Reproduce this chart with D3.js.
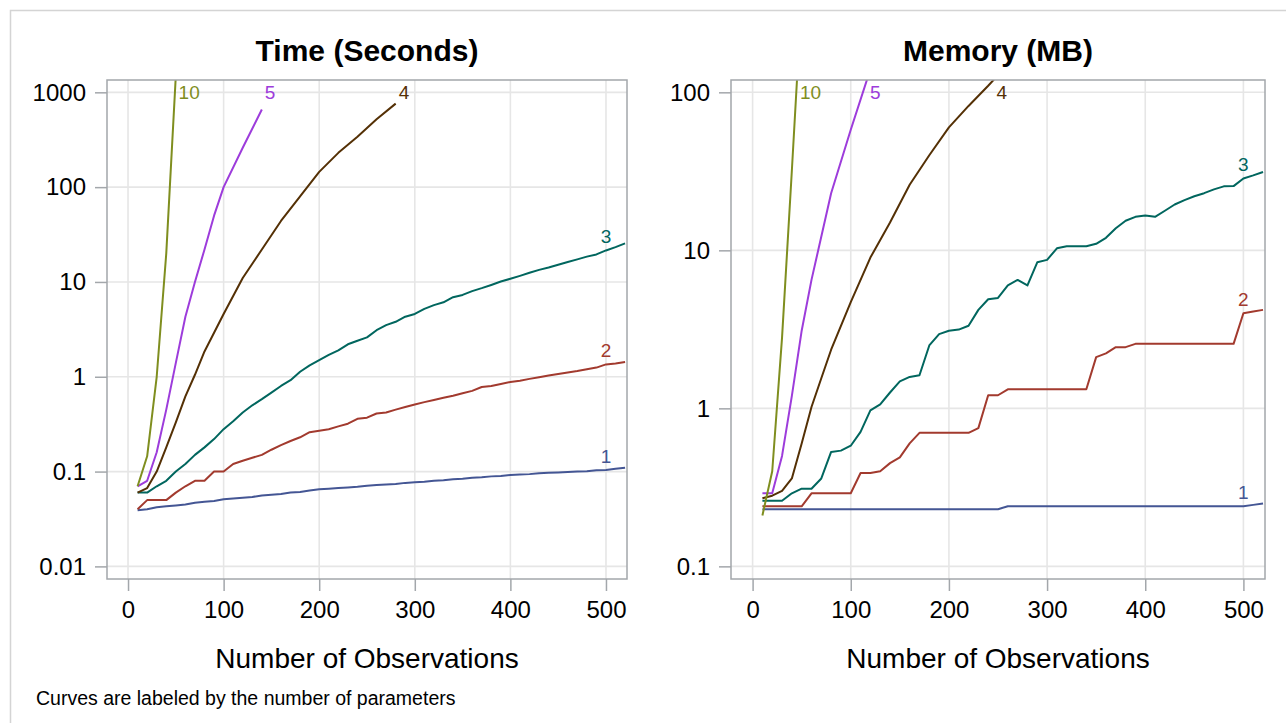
<!DOCTYPE html>
<html>
<head>
<meta charset="utf-8">
<script src="https://cdn.jsdelivr.net/npm/d3@7"></script>
<style>
  html, body { margin: 0; padding: 0; background: #fff; }
  svg { display: block; }
  text { font-family: "Liberation Sans", Arial, sans-serif; }
</style>
</head>
<body>
<svg id="chart" width="1286" height="723"></svg>
<script>
// ---------------- DATA ----------------
const obs = [10,20,30,40,50,60,70,80,90,100,110,120,130,140,150,160,170,180,190,200,
             210,220,230,240,250,260,270,280,290,300,310,320,330,340,350,360,370,380,390,400,
             410,420,430,440,450,460,470,480,490,500,510,520];

// Time (seconds)
const time1 = [0.039,0.040,0.042,0.043,0.044,0.045,0.047,0.048,0.049,0.051,
               0.052,0.053,0.054,0.056,0.057,0.058,0.060,0.061,0.063,0.065,
               0.066,0.067,0.068,0.069,0.071,0.072,0.073,0.074,0.076,0.077,
               0.078,0.080,0.081,0.083,0.084,0.086,0.087,0.089,0.090,0.092,
               0.093,0.094,0.096,0.097,0.098,0.099,0.100,0.101,0.103,0.104,
               0.107,0.110];
const time2 = [0.04,0.05,0.05,0.05,0.06,0.07,0.08,0.08,0.10,0.10,
               0.12,0.13,0.14,0.15,0.17,0.19,0.21,0.23,0.26,0.27,
               0.28,0.30,0.32,0.36,0.37,0.41,0.42,0.45,0.48,0.51,
               0.54,0.57,0.60,0.63,0.67,0.71,0.78,0.80,0.84,0.88,
               0.91,0.95,0.99,1.03,1.07,1.11,1.15,1.20,1.25,1.35,
               1.38,1.43];
const time3 = [0.06,0.06,0.07,0.08,0.10,0.12,0.15,0.18,0.22,0.28,
               0.34,0.42,0.50,0.58,0.68,0.80,0.92,1.13,1.32,1.50,
               1.70,1.90,2.20,2.40,2.60,3.10,3.50,3.80,4.30,4.60,
               5.20,5.70,6.10,6.90,7.30,8.00,8.60,9.30,10.1,10.8,
               11.6,12.5,13.4,14.2,15.2,16.2,17.3,18.5,19.5,21.5,
               23.3,25.5];
const time4N = [10,20,30,40,50,60,70,80,100,120,140,160,180,200,220,240,260,280];
const time4  = [0.06,0.067,0.10,0.18,0.33,0.62,1.05,1.85,4.6,11,22,44,80,145,230,340,520,760];
const time5N = [10,20,30,40,50,60,70,80,90,100,120,140];
const time5  = [0.07,0.08,0.16,0.45,1.4,4.3,10,22,50,100,260,660];
const time10N = [10,20,30,40,50];
const time10  = [0.07,0.145,1.0,20,1500];

// Memory (MB)
const mem1 = [0.23,0.23,0.23,0.23,0.23,0.23,0.23,0.23,0.23,0.23,
              0.23,0.23,0.23,0.23,0.23,0.23,0.23,0.23,0.23,0.23,
              0.23,0.23,0.23,0.23,0.23,0.24,0.24,0.24,0.24,0.24,
              0.24,0.24,0.24,0.24,0.24,0.24,0.24,0.24,0.24,0.24,
              0.24,0.24,0.24,0.24,0.24,0.24,0.24,0.24,0.24,0.24,
              0.245,0.25];
const mem2 = [0.24,0.24,0.24,0.24,0.24,0.29,0.29,0.29,0.29,0.29,
              0.39,0.39,0.40,0.45,0.49,0.60,0.70,0.70,0.70,0.70,
              0.70,0.70,0.75,1.21,1.21,1.32,1.32,1.32,1.32,1.32,
              1.32,1.32,1.32,1.32,2.11,2.23,2.44,2.44,2.56,2.56,
              2.56,2.56,2.56,2.56,2.56,2.56,2.56,2.56,2.56,4.00,
              4.10,4.20];
const mem3 = [0.26,0.26,0.26,0.29,0.31,0.31,0.36,0.53,0.54,0.58,
              0.71,0.97,1.06,1.26,1.48,1.58,1.62,2.50,2.95,3.10,
              3.15,3.33,4.20,4.90,5.00,6.00,6.50,6.00,8.40,8.70,
              10.3,10.6,10.6,10.6,11.0,12.0,13.8,15.4,16.3,16.6,
              16.3,17.8,19.5,20.8,22.0,23.0,24.3,25.4,25.5,28.5,
              29.8,31.3];
const mem4N = [10,20,30,40,50,60,70,80,100,120,140,160,180,200,220,240,260,280];
const mem4  = [0.27,0.28,0.30,0.36,0.60,1.02,1.55,2.35,4.7,9.0,15,26,40,60,82,110,150,190];
const mem5N = [10,20,30,40,50,60,80,100,120,140];
const mem5  = [0.29,0.29,0.50,1.2,3.1,6.5,23,58,140,250];
const mem10N = [10,20,30,40,50];
const mem10  = [0.21,0.40,2.8,32,400];

const seriesNames = ["1","2","3","4","5","10"];
const seriesColors = ["#445694","#A23A2E","#01665E","#543005","#9D3CDB","#7F8E1F"];

const xTicks = [0,100,200,300,400,500];
const timeTicks = [0.01,0.1,1,10,100,1000];
const timeTickLabels = ["0.01","0.1","1","10","100","1000"];
const memTicks = [0.1,1,10,100];
const memTickLabels = ["0.1","1","10","100"];

const titles = ["Time (Seconds)","Memory (MB)"];
const xTitle = "Number of Observations";
const footnote = "Curves are labeled by the number of parameters";

// ---------------- BUILD ----------------
function zip(ns, vs){ return ns.map((n,i)=>({n:n, v:vs[i]})); }

const panels = [
  { title: titles[0], x0: 107, x1: 627, y0: 80, y1: 579,
    yDomain: [Math.pow(10,-2.133), Math.pow(10,3.13)],
    yTicks: timeTicks, yTickLabels: timeTickLabels,
    series: [zip(obs,time1), zip(obs,time2), zip(obs,time3),
             zip(time4N,time4), zip(time5N,time5), zip(time10N,time10)] },
  { title: titles[1], x0: 731, x1: 1265, y0: 80, y1: 579,
    yDomain: [Math.pow(10,-1.08), Math.pow(10,2.078)],
    yTicks: memTicks, yTickLabels: memTickLabels,
    series: [zip(obs,mem1), zip(obs,mem2), zip(obs,mem3),
             zip(mem4N,mem4), zip(mem5N,mem5), zip(mem10N,mem10)] }
];

const svg = d3.select("#chart");
svg.append("rect").attr("width",1286).attr("height",723).attr("fill","#fff");

// outer border
svg.append("path").attr("d","M10.5,723 L10.5,10.5 L1286,10.5")
   .attr("fill","none").attr("stroke","#D4D4D4").attr("stroke-width",1.5);

const frameColor = "#A3A7AB";
const gridColor = "#E6E6E6";

panels.forEach((p, pi) => {
  const x = d3.scaleLinear().domain([-22, 522]).range([p.x0, p.x1]);
  const y = d3.scaleLog().domain(p.yDomain).range([p.y1, p.y0]);
  const g = svg.append("g");

  // gridlines
  g.selectAll(".vg").data(xTicks).enter().append("line")
    .attr("x1", d=>x(d)).attr("x2", d=>x(d)).attr("y1", p.y0).attr("y2", p.y1)
    .attr("stroke", gridColor).attr("stroke-width", 1.6);
  g.selectAll(".hg").data(p.yTicks).enter().append("line")
    .attr("y1", d=>y(d)).attr("y2", d=>y(d)).attr("x1", p.x0).attr("x2", p.x1)
    .attr("stroke", gridColor).attr("stroke-width", 1.6);

  // axes
  const xAxis = d3.axisBottom(x).tickValues(xTicks).tickSize(12).tickSizeOuter(0).tickPadding(10)
      .tickFormat(d3.format("d"));
  const xg = g.append("g").attr("transform", `translate(0,${p.y1})`).call(xAxis);
  const yAxis = d3.axisLeft(y).tickValues(p.yTicks).tickSize(12).tickSizeOuter(0).tickPadding(9)
      .tickFormat((d,i)=>p.yTickLabels[i]);
  const yg = g.append("g").attr("transform", `translate(${p.x0},0)`).call(yAxis);
  [xg, yg].forEach(ax => {
    ax.select(".domain").remove();
    ax.selectAll(".tick line").attr("stroke", frameColor).attr("stroke-width", 1.5);
    ax.selectAll(".tick text").attr("fill", "#000").style("font-size","24px")
      .style("font-family", '"Liberation Sans", Arial, sans-serif');
  });

  // clip
  const clipId = "clip" + pi;
  svg.append("clipPath").attr("id", clipId).append("rect")
    .attr("x", p.x0).attr("y", p.y0).attr("width", p.x1 - p.x0).attr("height", p.y1 - p.y0);

  const line = d3.line().x(d=>x(d.n)).y(d=>y(d.v));
  const lg = g.append("g").attr("clip-path", `url(#${clipId})`);
  p.series.forEach((s, si) => {
    lg.append("path").datum(s).attr("d", line)
      .attr("fill","none").attr("stroke", seriesColors[si]).attr("stroke-width", 2)
      .attr("stroke-linejoin","round");
  });

  // frame
  g.append("rect").attr("x", p.x0).attr("y", p.y0)
    .attr("width", p.x1 - p.x0).attr("height", p.y1 - p.y0)
    .attr("fill","none").attr("stroke", frameColor).attr("stroke-width", 1.5);

  // curve labels
  p.series.forEach((s, si) => {
    const last = s[s.length-1];
    let lx, ly, anchor;
    if (last.n >= 500) {
      const pt = s.find(d => d.n === 500);
      lx = x(pt.n); ly = y(pt.v) - 7; anchor = "middle";
    } else {
      // find where the curve leaves the top of the plot, or its end
      let ex = x(last.n);
      for (let i = 1; i < s.length; i++) {
        const ya = y(s[i-1].v), yb = y(s[i].v);
        if (yb < p.y0 && ya >= p.y0) {
          const t = (ya - p.y0) / (ya - yb);
          ex = x(s[i-1].n) + t * (x(s[i].n) - x(s[i-1].n));
          break;
        }
      }
      lx = ex + 3; ly = p.y0 + 19; anchor = "start";
    }
    g.append("text").attr("x", lx).attr("y", ly).attr("text-anchor", anchor)
      .attr("fill", seriesColors[si]).style("font-size","19px").text(seriesNames[si]);
  });

  // titles
  g.append("text").attr("x", (p.x0+p.x1)/2).attr("y", 61).attr("text-anchor","middle")
    .style("font-size","30px").style("font-weight","bold").attr("fill","#000").text(p.title);
  g.append("text").attr("x", (p.x0+p.x1)/2).attr("y", 668).attr("text-anchor","middle")
    .style("font-size","28px").attr("fill","#000").text(xTitle);
});

svg.append("text").attr("x", 36).attr("y", 705).style("font-size","19.5px")
  .attr("fill","#000").text(footnote);
</script>
</body>
</html>
